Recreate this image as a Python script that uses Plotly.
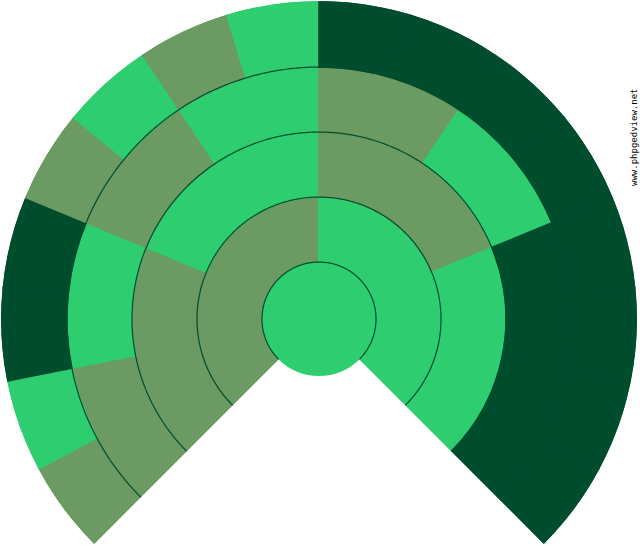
import numpy as np
import plotly.graph_objects as go

# Fan chart (PhpGedView style): generation 0 = root, each generation doubles
# M = male, F = female, U = unknown / empty slot
gen0 = ["F"]
gen1 = ["M", "F"]
gen2 = ["M", "F", "M", "F"]
gen3 = ["M", "F", "M", "F", "M", "F", "U", "U"]
gen4 = ["M", "F", "U", "U", "M", "F", "M", "F",
        "U", "U", "U", "U", "U", "U", "U", "U"]
generations = [gen0, gen1, gen2, gen3, gen4]

ring_edges = [0, 57, 122, 187, 252, 318]   # radial boundaries
fan_span = 270                              # degrees covered by the fan

sex_colors = {"M": "#6B9A63", "F": "#2ECE70", "U": "#004D2E"}
line_color = "#004D2E"

fig = go.Figure()

for g in range(1, len(generations)):
    people = generations[g]
    n = len(people)
    w = fan_span / n
    thetas = [-fan_span / 2 + (i + 0.5) * w for i in range(n)]
    cols = [sex_colors[p] for p in people]
    fig.add_trace(go.Barpolar(
        r=[ring_edges[g + 1] - ring_edges[g]] * n,
        base=[ring_edges[g]] * n,
        theta=thetas, width=[w] * n,
        marker=dict(color=cols, line=dict(color=cols, width=1.5)),
        hoverinfo="skip", showlegend=False))

# center (root person): full disc, drawn as an unclipped marker at the pole
fig.add_trace(go.Scatterpolar(
    r=[0], theta=[0], mode="markers",
    marker=dict(size=2 * ring_edges[1], color=sex_colors[gen0[0]],
                line=dict(width=0)),
    cliponaxis=False, hoverinfo="skip", showlegend=False))

# thin arcs between generations
arc_theta = np.linspace(-fan_span / 2, fan_span / 2, 541)
for rr in ring_edges[1:5]:
    fig.add_trace(go.Scatterpolar(
        r=[rr] * len(arc_theta), theta=arc_theta, mode="lines",
        line=dict(color=line_color, width=1.2),
        hoverinfo="skip", showlegend=False))

fig.update_layout(
    width=640, height=550,
    margin=dict(l=0, r=0, t=0, b=0),
    paper_bgcolor="white",
    polar=dict(
        domain=dict(x=[1 / 640, 637 / 640], y=[6 / 550, 549 / 550]),
        sector=[-45, 225],
        bgcolor="white",
        hole=0,
        angularaxis=dict(visible=False, rotation=90, direction="clockwise",
                         showgrid=False, showline=False, ticks=""),
        radialaxis=dict(visible=False, range=[0, ring_edges[-1]],
                        showgrid=False, showline=False, ticks=""),
        bargap=0,
    ),
    annotations=[dict(
        text="www.phpgedview.net", x=634 / 640, y=(550 - 137) / 550,
        xref="paper", yref="paper", xanchor="center", yanchor="middle",
        showarrow=False, textangle=-90,
        font=dict(family="DejaVu Sans Mono", size=9, color="black"),
    )],
)

fig.write_html("out.html", config={"displayModeBar": False},
               post_script="document.body.style.margin='0';")
